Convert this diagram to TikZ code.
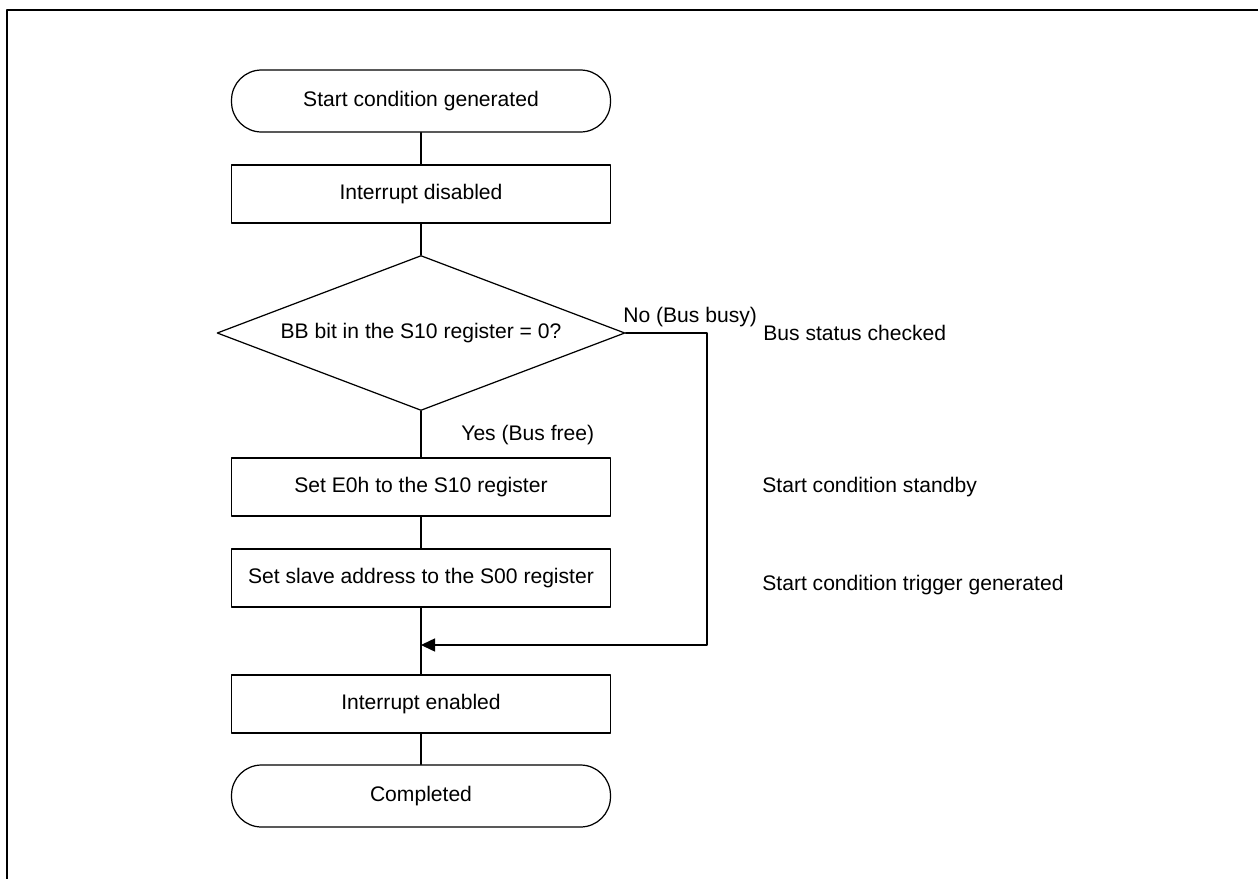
\documentclass[tikz,border=0pt]{standalone}
\usepackage{fontspec}
\setmainfont{Liberation Sans}
\usetikzlibrary{arrows.meta,shapes.geometric}

\begin{document}
\begin{tikzpicture}[line cap=round,line join=round,x=0.02cm,y=-0.02cm,
  every node/.style={font=\fontsize{12}{14}\selectfont},
  terminal/.style={draw,line width=0.7pt,rounded corners=0.6cm,minimum width=7.58cm,minimum height=1.24cm},
  process/.style={draw,line width=0.7pt,minimum width=7.58cm,minimum height=1.16cm},
  decision/.style={draw,line width=0.7pt,diamond,aspect=2.63,minimum width=8.16cm,minimum height=3.1cm,inner sep=0pt},
  flow/.style={line width=0.6pt},
  note/.style={anchor=west,inner sep=0pt}]
  \useasboundingbox (0,0) rectangle (1258,879);
  \draw[line width=1.2pt] (1258,10) -- (7,10) -- (7,879);

  % main column
  \node[terminal] (start) at (421,101) {Start condition generated};
  \node[process] (intoff) at (421,194) {Interrupt disabled};
  \node[decision] (bbchk) at (421,333) {BB bit in the S10 register = 0?};
  \node[process] (sete0) at (421,487) {Set E0h to the S10 register};
  \node[process] (setadr) at (421,578) {Set slave address to the S00 register};
  \node[process] (inton) at (421,704) {Interrupt enabled};
  \node[terminal] (done) at (421,796) {Completed};
  \coordinate (join) at (421,645);
  \coordinate (busy) at (707,645);

  \draw[flow] (start) -- (intoff);
  \draw[flow] (intoff) -- (bbchk);
  \draw[flow] (bbchk) -- (sete0);
  \draw[flow] (sete0) -- (setadr);
  \draw[flow] (setadr) -- (inton);
  \draw[flow] (inton) -- (done);
  \draw[flow,-{Triangle[length=8pt,width=7.5pt]}] (bbchk.east) -| (busy) -- (join);

  % branch labels and notes
  \node[note] (nolbl) at (623,317) {No (Bus busy)};
  \node[note] (yeslbl) at (461,435) {Yes (Bus free)};
  \node[note] (chknote) at (763,333) {Bus status checked};
  \node[note] (sbnote) at (762,487) {Start condition standby};
  \node[note] (trgnote) at (762,585) {Start condition trigger generated};
\end{tikzpicture}
\end{document}
